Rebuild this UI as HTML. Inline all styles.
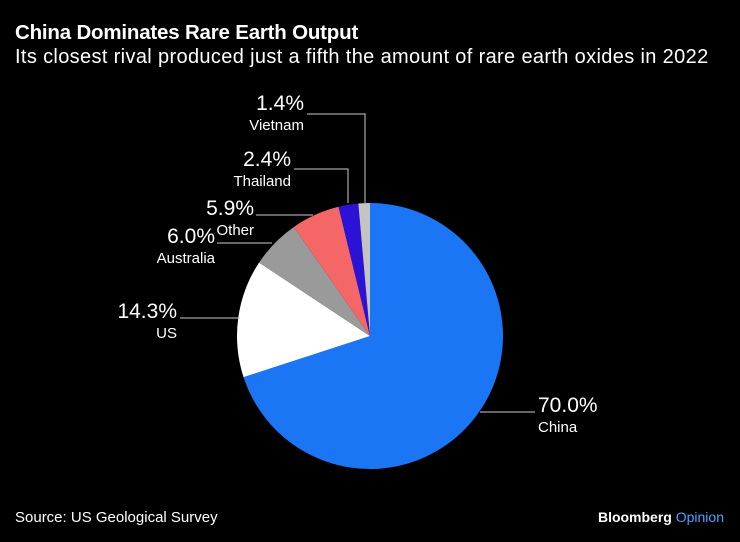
<!DOCTYPE html>
<html><head><meta charset="utf-8"><style>
html,body{margin:0;padding:0;background:#000;}
body{width:740px;height:542px;overflow:hidden;font-family:"Liberation Sans",sans-serif;color:#fff;position:relative;}
.t{position:absolute;left:15px;top:21px;font-size:20.5px;font-weight:bold;margin:0;letter-spacing:-0.2px;}
.s{position:absolute;left:15px;top:46px;font-size:20px;margin:0;letter-spacing:0.35px;}
.src{position:absolute;left:15px;top:509px;font-size:15px;}
.logo{position:absolute;right:16px;top:509px;font-size:14px;font-weight:bold;}
svg{position:absolute;left:0;top:0;}
</style></head><body>
<h1 class="t">China Dominates Rare Earth Output</h1>
<p class="s">Its closest rival produced just a fifth the amount of rare earth oxides in 2022</p>
<svg width="740" height="542" id="chart"></svg>
<div class="src">Source: US Geological Survey</div>
<div class="logo">Bloomberg <span style="color:#4aa3ff;font-weight:normal">Opinion</span></div>
<script>
const categories=["China","US","Australia","Other","Thailand","Vietnam"];
const values=[70.0,14.3,6.0,5.9,2.4,1.4];
const labels=["70.0%","14.3%","6.0%","5.9%","2.4%","1.4%"];
const colors=["#1a76f5","#ffffff","#9a9a9a","#f56767","#2a12d6","#c4c4c4"];
const NS="http://www.w3.org/2000/svg";
const svg=document.getElementById('chart');
const cx=370,cy=336,r=133;
const total=values.reduce((a,b)=>a+b,0);
function pt(a,rr){return [cx+rr*Math.sin(a),cy-rr*Math.cos(a)];}
let acc=0;
values.forEach((v,i)=>{
  const a0=acc/total*2*Math.PI;acc+=v;const a1=acc/total*2*Math.PI;
  const p0=pt(a0,r),p1=pt(a1,r);
  const large=(a1-a0)>Math.PI?1:0;
  const p=document.createElementNS(NS,'path');
  p.setAttribute('d',`M${cx},${cy}L${p0[0]},${p0[1]}A${r},${r} 0 ${large} 1 ${p1[0]},${p1[1]}Z`);
  p.setAttribute('fill',colors[i]);
  
  
  svg.appendChild(p);
});
const layout=[
  {line:[[480,412],[535,412]],x:538,y:412,anchor:"start"},
  {line:[[240,318],[180,318]],x:177,y:318,anchor:"end"},
  {line:[[272,243],[217,243]],x:215,y:243,anchor:"end"},
  {line:[[313,215],[256,215]],x:254,y:215,anchor:"end"},
  {line:[[348,203],[348,169],[294,169]],x:291,y:166,anchor:"end"},
  {line:[[365,203],[365,114],[307,114]],x:304,y:110,anchor:"end"}
];
layout.forEach((L,i)=>{
  const pl=document.createElementNS(NS,'polyline');
  pl.setAttribute('points',L.line.map(p=>p.join(',')).join(' '));
  pl.setAttribute('fill','none');pl.setAttribute('stroke','#ccc');pl.setAttribute('stroke-width','1');
  
  
  svg.appendChild(pl);
  const t1=document.createElementNS(NS,'text');
  t1.setAttribute('x',L.x);t1.setAttribute('y',L.y);t1.setAttribute('text-anchor',L.anchor);
  t1.setAttribute('fill','#fff');t1.setAttribute('font-size','21');
  t1.textContent=labels[i];
  
  
  svg.appendChild(t1);
  const t2=document.createElementNS(NS,'text');
  t2.setAttribute('x',L.x);t2.setAttribute('y',L.y+20);t2.setAttribute('text-anchor',L.anchor);
  t2.setAttribute('fill','#fff');t2.setAttribute('font-size','15');
  t2.textContent=categories[i];
  
  
  svg.appendChild(t2);
});
</script>
</body></html>
